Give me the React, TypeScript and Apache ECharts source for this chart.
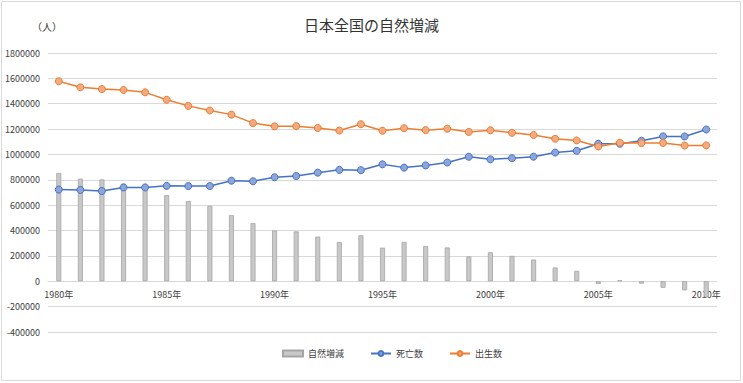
import React, { useEffect, useRef } from "react";
import * as echarts from "echarts";

const years = [
  "1980年", "1981年", "1982年", "1983年", "1984年", "1985年", "1986年", "1987年", "1988年", "1989年",
  "1990年", "1991年", "1992年", "1993年", "1994年", "1995年", "1996年", "1997年", "1998年", "1999年",
  "2000年", "2001年", "2002年", "2003年", "2004年", "2005年", "2006年", "2007年", "2008年", "2009年",
  "2010年",
];

const births = [
  1576889, 1529455, 1515392, 1508687, 1489780, 1431577, 1382946, 1346658, 1314006, 1246802,
  1221585, 1223245, 1208989, 1188282, 1238328, 1187064, 1206555, 1191665, 1203147, 1177669,
  1190547, 1170662, 1153855, 1123610, 1110721, 1062530, 1092674, 1089818, 1091156, 1070035,
  1071304,
];

const deaths = [
  722801, 720262, 711883, 740038, 740247, 752283, 750620, 751172, 793014, 788594,
  820305, 829797, 856643, 878532, 875933, 922139, 896211, 913402, 936484, 982031,
  961653, 970331, 982379, 1014951, 1028602, 1083796, 1084450, 1108334, 1142407, 1141865,
  1197012,
];

const naturalChange = [
  854088, 809193, 803509, 768649, 749533, 679294, 632326, 595486, 520992, 458208,
  401280, 393448, 352346, 309750, 362395, 264925, 310344, 278263, 266663, 195638,
  228894, 200331, 171476, 108659, 82119, -21266, 8224, -18516, -51251, -71830,
  -125708,
];

const Y_MIN = -400000;
const Y_MAX = 1800000;
const FONT = "'Noto Sans CJK JP', 'Noto Sans', sans-serif";
const GRID = { left: 48, right: 26, top: 53, bottom: 51 };
const HEIGHT = 383;

export default function App() {
  const ref = useRef<HTMLDivElement>(null);

  useEffect(() => {
    if (!ref.current) return;
    document.body.style.margin = "0";
    const chart = echarts.init(ref.current, undefined, { renderer: "svg" });
    const plotH = HEIGHT - GRID.top - GRID.bottom;
    const zeroOffset = -(plotH * (0 - Y_MIN)) / (Y_MAX - Y_MIN);
    chart.setOption({
      animation: false,
      backgroundColor: "#ffffff",
      textStyle: { fontFamily: FONT },
      title: {
        text: "日本全国の自然増減",
        left: "center",
        top: 12,
        textStyle: { fontSize: 15, fontWeight: "normal", color: "#333333", fontFamily: FONT },
      },
      graphic: [
        {
          type: "rect",
          shape: { x: 1.5, y: 1.5, width: 739, height: 379 },
          style: { fill: "none", stroke: "#d9d9d9", lineWidth: 1 },
          silent: true,
        },
        {
          type: "text",
          left: 32,
          top: 21,
          style: { text: "（人）", fontSize: 10, fill: "#333333", fontFamily: FONT },
        },
      ],
      legend: {
        bottom: 20,
        left: 277,
        itemGap: 26,
        itemWidth: 20,
        itemHeight: 6,
        textStyle: { fontSize: 9, color: "#404040", fontFamily: FONT },
        data: [
          { name: "自然増減", icon: "rect" },
          { name: "死亡数" },
          { name: "出生数" },
        ],
      },
      grid: { ...GRID, containLabel: false, outerBoundsMode: "none" },
      xAxis: {
        type: "category",
        data: years,
        boundaryGap: true,
        offset: zeroOffset,
        axisLine: { onZero: false, lineStyle: { color: "#d9d9d9" } },
        axisTick: { show: false },
        axisLabel: { interval: 4, fontSize: 9, color: "#404040", margin: 9, fontFamily: FONT },
      },
      yAxis: {
        type: "value",
        min: Y_MIN,
        max: Y_MAX,
        interval: 200000,
        axisLine: { show: false },
        axisTick: { show: false },
        axisLabel: {
          fontSize: 9,
          color: "#404040",
          margin: 8,
          fontFamily: FONT,
          formatter: (v: number) => String(v),
        },
        splitLine: { lineStyle: { color: "#d9d9d9", width: 1 } },
      },
      series: [
        {
          name: "自然増減",
          type: "bar",
          data: naturalChange,
          barWidth: 5,
          itemStyle: { color: "#c8c8c8", borderColor: "#a5a5a5", borderWidth: 0.8 },
        },
        {
          name: "死亡数",
          type: "line",
          data: deaths,
          symbol: "circle",
          symbolSize: 7,
          lineStyle: { color: "#4472c4", width: 1.5 },
          itemStyle: { color: "#8ea5dc", borderColor: "#4472c4", borderWidth: 1 },
        },
        {
          name: "出生数",
          type: "line",
          data: births,
          symbol: "circle",
          symbolSize: 7,
          lineStyle: { color: "#ed7d31", width: 1.5 },
          itemStyle: { color: "#f2aa80", borderColor: "#ed7d31", borderWidth: 1 },
        },
      ],
    });
    return () => chart.dispose();
  }, []);

  return (
    <div
      ref={ref}
      style={{ width: 743, height: HEIGHT, position: "absolute", left: 0, top: 0 }}
    />
  );
}
